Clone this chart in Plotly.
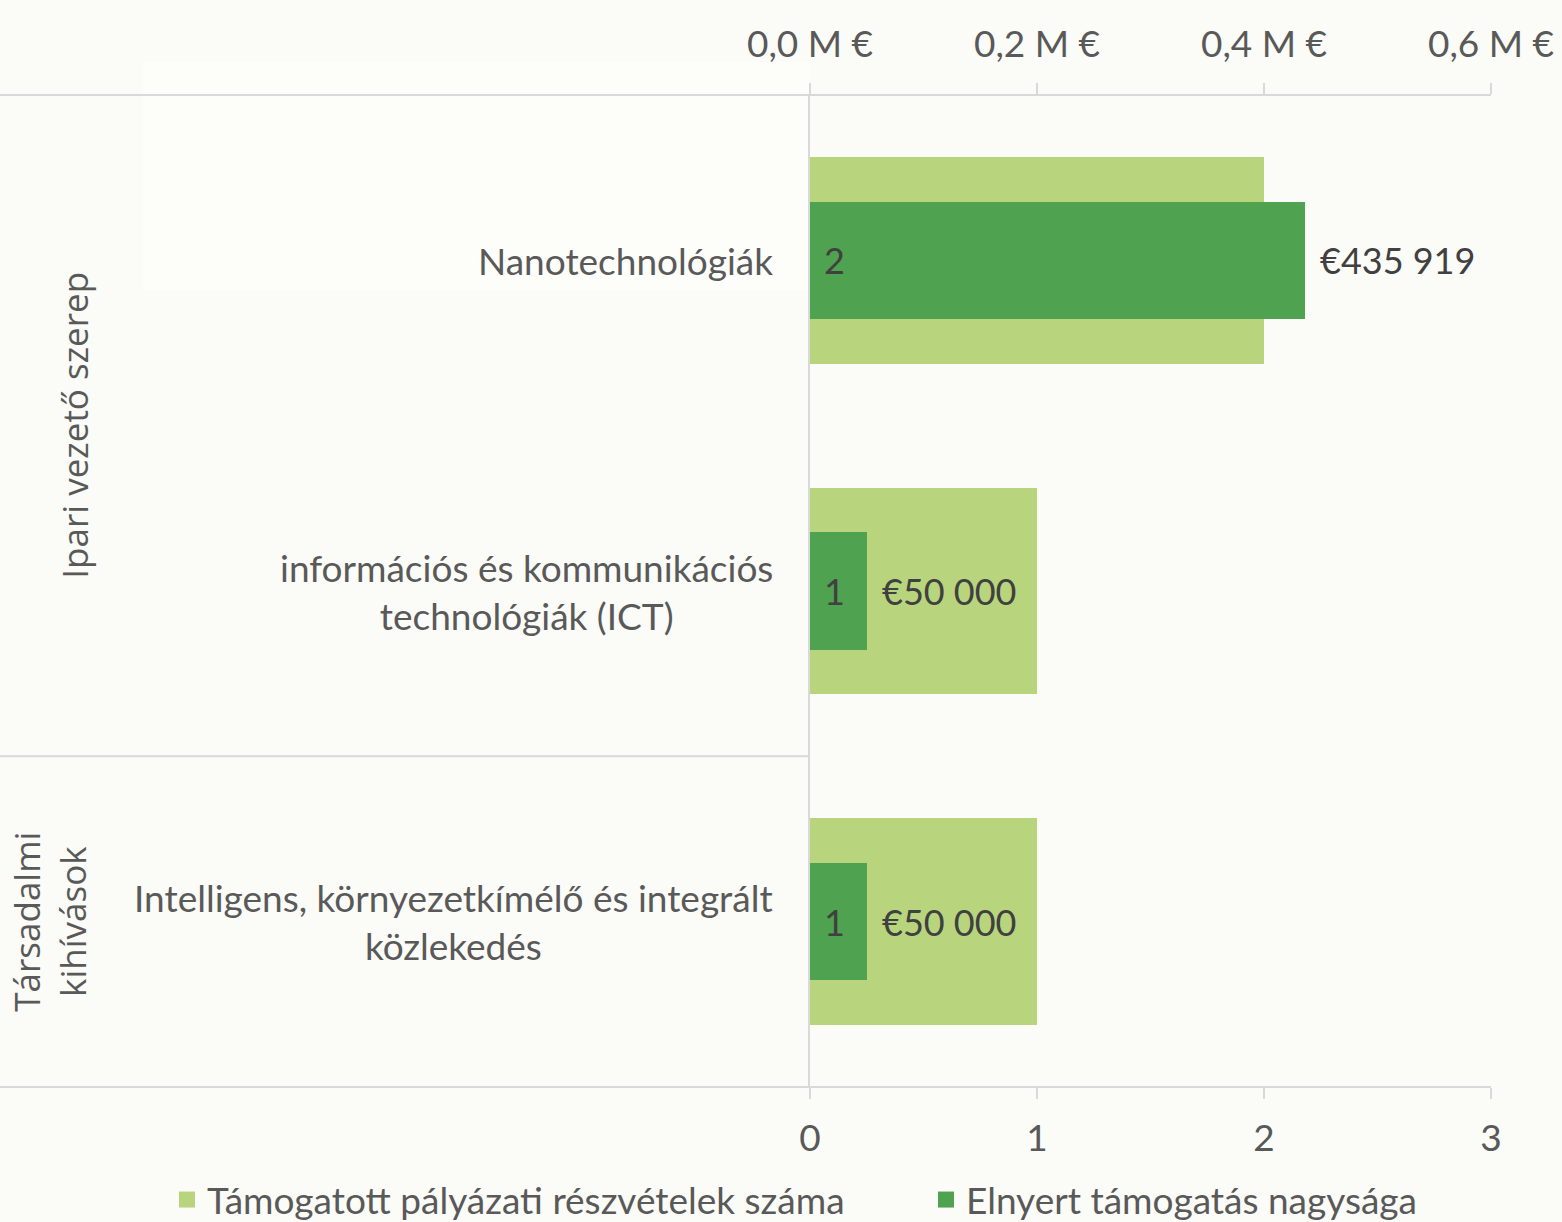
import plotly.graph_objects as go

categories = ["Nanotechnológiák",
              "információs és kommunikációs<br>technológiák (ICT)",
              "Intelligens, környezetkímélő és integrált<br>közlekedés"]
groups = ["Ipari vezető szerep", "Társadalmi<br>kihívások"]
group_spans = [(0, 1), (2, 2)]
counts = [2, 1, 1]
amounts = [435919, 50000, 50000]
count_ticks = [0, 1, 2, 3]
amount_ticks = [0, 200000, 400000, 600000]
amount_ticklabels = ["0,0 M €", "0,2 M €", "0,4 M €", "0,6 M €"]
series_names = ["Támogatott pályázati részvételek száma", "Elnyert támogatás nagysága"]

LIGHT = "#B8D57E"
DARK = "#4EA250"
BG = "#FBFBF7"
AX = "#D9D9D9"
TXT = "#595959"
LBL = "#404040"
FONT = "Lato"

W, H = 1562, 1222
ml, mr, mt, mb = 810, 71, 95, 135
pw = W - ml - mr
ph = H - mt - mb

fig = go.Figure()
fig.add_trace(go.Bar(y=categories, x=counts, orientation="h", name=series_names[0],
                     marker=dict(color=LIGHT, line=dict(width=0)), width=0.625,
                     xaxis="x", yaxis="y", hoverinfo="skip", showlegend=False))
fig.add_trace(go.Bar(y=categories, x=amounts, orientation="h", name=series_names[1],
                     marker=dict(color=DARK, line=dict(width=0)), width=0.354,
                     xaxis="x2", yaxis="y", hoverinfo="skip", showlegend=False))
# legend entries
for name, col, lg in [(series_names[0], LIGHT, "legend"), (series_names[1], DARK, "legend2")]:
    fig.add_trace(go.Scatter(x=[None], y=[None], mode="markers", name=name, legend=lg,
                             marker=dict(symbol="square", size=21, color=col, line=dict(width=0)),
                             showlegend=True, hoverinfo="skip"))

def fmt_eur(v):
    return "€" + f"{v:,}".replace(",", " ")

ann = []
for c, n, a in zip(categories, counts, amounts):
    ann.append(dict(x=0, y=c, xref="x", yref="y", text=str(n), showarrow=False,
                    xanchor="left", xshift=12, font=dict(family=FONT, size=36, color=LBL)))
    ann.append(dict(x=a, y=c, xref="x2", yref="y", text=fmt_eur(a), showarrow=False,
                    xanchor="left", xshift=13, font=dict(family=FONT, size=36, color=LBL)))
    ann.append(dict(x=(775 - ml) / pw, y=c, xref="paper", yref="y", text=c, showarrow=False,
                    xanchor="right", align="center", font=dict(family=FONT, size=37, color=TXT)))

for g, (i0, i1) in zip(groups, group_spans):
    ann.append(dict(x=(75 - ml) / pw if "<br>" not in g else (50 - ml) / pw,
                    y=(i0 + i1) / 2, xref="paper", yref="y", text=g, showarrow=False,
                    textangle=-90, xanchor="center", align="center",
                    font=dict(family="Open Sans", size=35, color=TXT)))

x_left = -ml / pw
shapes = [
    dict(type="rect", xref="paper", yref="paper", x0=(143 - ml) / pw, x1=0,
         y0=1 + (95 - 62) / ph, y1=1 - (290 - 95) / ph,
         fillcolor="#FDFDFA", line=dict(width=0), layer="below"),
    dict(type="line", xref="paper", yref="paper", x0=x_left, x1=1, y0=1, y1=1,
         line=dict(color=AX, width=2)),
    dict(type="line", xref="paper", yref="paper", x0=x_left, x1=1, y0=0, y1=0,
         line=dict(color=AX, width=2)),
    dict(type="line", xref="paper", yref="y", x0=x_left, x1=0, y0=1.5, y1=1.5,
         line=dict(color=AX, width=2)),
]

leg_common = dict(orientation="h", yanchor="middle", y=-(1200 - 1087) / ph,
                  xanchor="left", font=dict(family=FONT, size=37, color=TXT),
                  bgcolor="rgba(0,0,0,0)", borderwidth=0)

fig.update_layout(
    width=W, height=H, margin=dict(l=ml, r=mr, t=mt, b=mb, autoexpand=False),
    paper_bgcolor=BG, plot_bgcolor=BG, barmode="overlay", bargap=0,
    showlegend=True,
    legend=dict(x=(167 - ml) / pw, **leg_common),
    legend2=dict(x=(926 - ml) / pw, **leg_common),
    xaxis=dict(range=[0, 3], tickvals=count_ticks, ticktext=[str(t) for t in count_ticks],
               showgrid=False, zeroline=False, showline=False, ticks="outside",
               ticklen=11, tickcolor=AX, tickwidth=2, side="bottom", ticklabelstandoff=8,
               tickfont=dict(family=FONT, size=37, color=TXT), fixedrange=True),
    xaxis2=dict(range=[0, 600000], tickvals=amount_ticks, ticktext=amount_ticklabels,
                overlaying="x", side="top", showgrid=False, zeroline=False, showline=False,
                ticks="outside", ticklen=11, tickcolor=AX, tickwidth=2, ticklabelstandoff=11,
                tickfont=dict(family=FONT, size=37, color=TXT), fixedrange=True),
    yaxis=dict(categoryorder="array", categoryarray=categories, autorange="reversed",
               showticklabels=False, showgrid=False, zeroline=False, showline=True,
               linecolor=AX, linewidth=2, ticks="", fixedrange=True),
    annotations=ann, shapes=shapes,
)

fig.write_html("out.html", config={"displayModeBar": False},
               post_script="document.body.style.margin='0';document.body.style.overflow='hidden';")
